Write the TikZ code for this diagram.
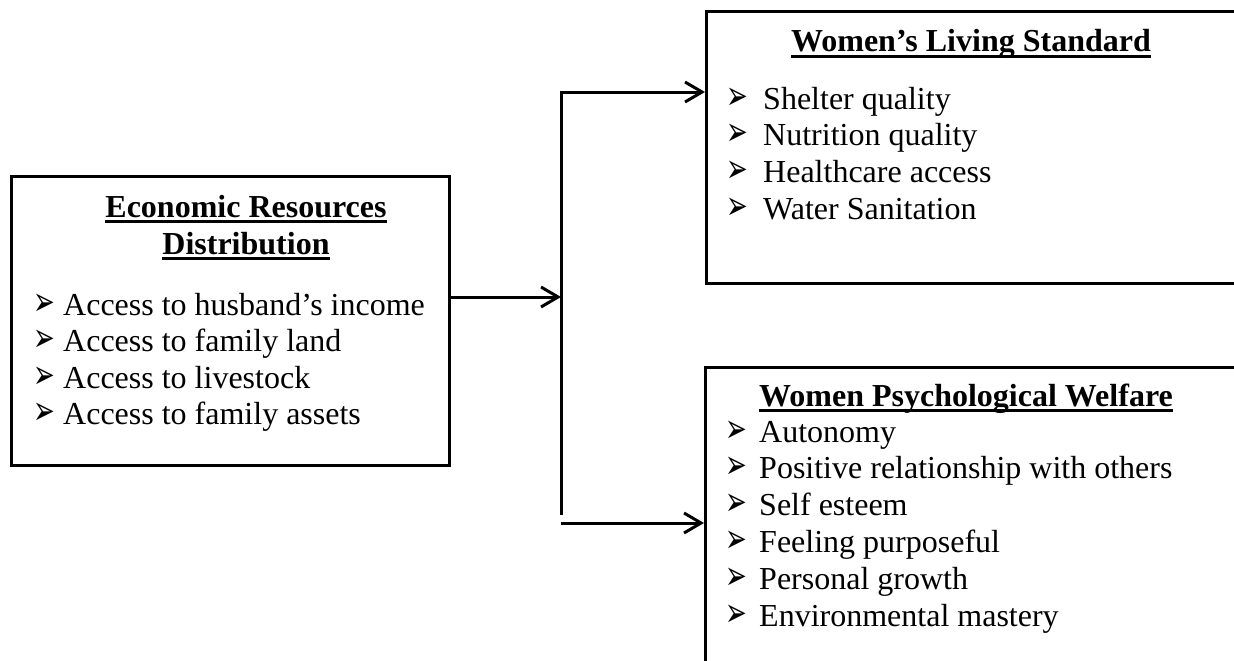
\documentclass[tikz,border=0pt]{standalone}
\usepackage{fontspec}
\setmainfont{Liberation Serif}
\newfontfamily\dingfont{DejaVu Sans}
\usetikzlibrary{arrows.meta}
\newcommand\hdline[1]{\setbox0\hbox{#1}\rlap{\rule[-6pt]{\wd0}{3pt}}\box0}
\newcommand\blt[1]{\makebox[#1][l]{\hspace{-2pt}\smash{\scalebox{1.0}[1.55]{\dingfont\fontsize{26}{26}\selectfont ➢}}}}

\begin{document}
\begin{tikzpicture}[x=1pt,y=-1pt,
box/.style={%
draw,
line width=2.6pt,
anchor=north west,
inner sep=0pt
},
head/.style={%
font=\fontsize{32}{37}\selectfont\bfseries,
anchor=base,
inner sep=0pt
},
item/.style={%
font=\fontsize{32}{37}\selectfont,
anchor=base west,
inner sep=0pt
},
link/.style={line width=3pt},
flow/.style={link,-{Straight Barb[length=17pt,width=20pt]}},
]
\useasboundingbox (0,0) rectangle (1234,661);
\clip (0,0) rectangle (1234,661);
%% Boxes
\node[box,minimum width=438pt,minimum height=289pt] (econ) at (10,175) {};
\node[box,minimum width=532pt,minimum height=272pt] (living) at (705,10) {};
\node[box,minimum width=540pt,minimum height=400pt] (psych) at (704,366) {};
%% Economic resources
\node[head] (econ-t1) at (246,217) {\hdline{Economic Resources}};
\node[head] (econ-t2) at (246,254) {\hdline{Distribution}};
\foreach \txt [count=\i] in {Access to husband’s income,Access to family land,Access to livestock,Access to family assets}{%
\node[item] (econ-\i) at (35,{315+36.6*(\i-1)}) {\blt{28pt}\txt};
}
%% Living standard
\node[head] (living-t) at (971,52) {\hdline{Women’s Living Standard}};
\foreach \txt [count=\i] in {Shelter quality,Nutrition quality,Healthcare access,Water Sanitation}{%
\node[item] (living-\i) at (728,{109+36.7*(\i-1)}) {\blt{35pt}\txt};
}
%% Psychological welfare
\node[head,anchor=base west] (psych-t) at (759,406) {\hdline{Women Psychological Welfare}};
\foreach \txt [count=\i] in {Autonomy,Positive relationship with others,Self esteem,Feeling purposeful,Personal growth,Environmental mastery}{%
\node[item] (psych-\i) at (727,{442+36.8*(\i-1)}) {\blt{32pt}\txt};
}
%% Connectors
\coordinate (split) at (561,297);
\coordinate (splittop) at (561,92);
\coordinate (splitbot) at (561,515);
\coordinate (lowstart) at (561,523);
\draw[flow] (econ.east |- split) -- (split);
\draw[flow] (splitbot) -- (splittop) -- (living.west |- splittop);
\draw[flow] (lowstart) -- (psych.west |- lowstart);
\end{tikzpicture}
\end{document}
